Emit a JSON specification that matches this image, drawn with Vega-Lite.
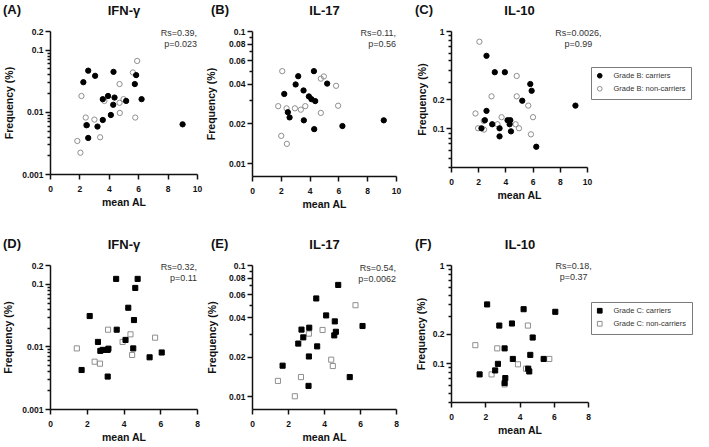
{
  "$schema": "https://vega.github.io/schema/vega-lite/v6.json",
  "padding": {"left": 2, "top": 4, "right": 2, "bottom": 2},
  "background": "white",
  "datasets": {
    "pts": [
      {"panel": "A", "al": 2.14, "freq": 0.018, "group": "Grade B: non-carriers"},
      {"panel": "A", "al": 2.43, "freq": 0.0081, "group": "Grade B: non-carriers"},
      {"panel": "A", "al": 3.02, "freq": 0.0075, "group": "Grade B: non-carriers"},
      {"panel": "A", "al": 3.41, "freq": 0.0039, "group": "Grade B: non-carriers"},
      {"panel": "A", "al": 1.86, "freq": 0.0034, "group": "Grade B: non-carriers"},
      {"panel": "A", "al": 2.07, "freq": 0.0022, "group": "Grade B: non-carriers"},
      {"panel": "A", "al": 3.7, "freq": 0.015, "group": "Grade B: non-carriers"},
      {"panel": "A", "al": 4.73, "freq": 0.028, "group": "Grade B: non-carriers"},
      {"panel": "A", "al": 4.73, "freq": 0.014, "group": "Grade B: non-carriers"},
      {"panel": "A", "al": 5.0, "freq": 0.016, "group": "Grade B: non-carriers"},
      {"panel": "A", "al": 4.75, "freq": 0.0096, "group": "Grade B: non-carriers"},
      {"panel": "A", "al": 5.8, "freq": 0.0081, "group": "Grade B: non-carriers"},
      {"panel": "A", "al": 5.64, "freq": 0.043, "group": "Grade B: non-carriers"},
      {"panel": "A", "al": 5.93, "freq": 0.066, "group": "Grade B: non-carriers"},
      {"panel": "A", "al": 2.45, "freq": 0.0061, "group": "Grade B: non-carriers"},
      {"panel": "A", "al": 2.6, "freq": 0.046, "group": "Grade B: carriers"},
      {"panel": "A", "al": 2.27, "freq": 0.030, "group": "Grade B: carriers"},
      {"panel": "A", "al": 3.07, "freq": 0.038, "group": "Grade B: carriers"},
      {"panel": "A", "al": 4.32, "freq": 0.044, "group": "Grade B: carriers"},
      {"panel": "A", "al": 5.86, "freq": 0.039, "group": "Grade B: carriers"},
      {"panel": "A", "al": 5.77, "freq": 0.028, "group": "Grade B: carriers"},
      {"panel": "A", "al": 3.59, "freq": 0.016, "group": "Grade B: carriers"},
      {"panel": "A", "al": 3.95, "freq": 0.018, "group": "Grade B: carriers"},
      {"panel": "A", "al": 4.39, "freq": 0.017, "group": "Grade B: carriers"},
      {"panel": "A", "al": 4.3, "freq": 0.013, "group": "Grade B: carriers"},
      {"panel": "A", "al": 5.18, "freq": 0.015, "group": "Grade B: carriers"},
      {"panel": "A", "al": 6.23, "freq": 0.016, "group": "Grade B: carriers"},
      {"panel": "A", "al": 4.14, "freq": 0.0089, "group": "Grade B: carriers"},
      {"panel": "A", "al": 3.59, "freq": 0.0074, "group": "Grade B: carriers"},
      {"panel": "A", "al": 2.5, "freq": 0.0061, "group": "Grade B: carriers"},
      {"panel": "A", "al": 3.23, "freq": 0.0058, "group": "Grade B: carriers"},
      {"panel": "A", "al": 2.6, "freq": 0.0038, "group": "Grade B: carriers"},
      {"panel": "A", "al": 9.02, "freq": 0.0063, "group": "Grade B: carriers"},

      {"panel": "B", "al": 2.1, "freq": 0.0497, "group": "Grade B: non-carriers"},
      {"panel": "B", "al": 4.78, "freq": 0.0436, "group": "Grade B: non-carriers"},
      {"panel": "B", "al": 4.99, "freq": 0.0453, "group": "Grade B: non-carriers"},
      {"panel": "B", "al": 5.84, "freq": 0.0385, "group": "Grade B: non-carriers"},
      {"panel": "B", "al": 5.98, "freq": 0.0272, "group": "Grade B: non-carriers"},
      {"panel": "B", "al": 1.82, "freq": 0.027, "group": "Grade B: non-carriers"},
      {"panel": "B", "al": 2.4, "freq": 0.026, "group": "Grade B: non-carriers"},
      {"panel": "B", "al": 2.98, "freq": 0.026, "group": "Grade B: non-carriers"},
      {"panel": "B", "al": 3.39, "freq": 0.0254, "group": "Grade B: non-carriers"},
      {"panel": "B", "al": 3.7, "freq": 0.027, "group": "Grade B: non-carriers"},
      {"panel": "B", "al": 4.78, "freq": 0.024, "group": "Grade B: non-carriers"},
      {"panel": "B", "al": 2.03, "freq": 0.0161, "group": "Grade B: non-carriers"},
      {"panel": "B", "al": 2.42, "freq": 0.014, "group": "Grade B: non-carriers"},
      {"panel": "B", "al": 4.3, "freq": 0.0497, "group": "Grade B: carriers"},
      {"panel": "B", "al": 3.21, "freq": 0.0455, "group": "Grade B: carriers"},
      {"panel": "B", "al": 3.03, "freq": 0.0394, "group": "Grade B: carriers"},
      {"panel": "B", "al": 5.22, "freq": 0.040, "group": "Grade B: carriers"},
      {"panel": "B", "al": 3.58, "freq": 0.0355, "group": "Grade B: carriers"},
      {"panel": "B", "al": 2.24, "freq": 0.0334, "group": "Grade B: carriers"},
      {"panel": "B", "al": 3.95, "freq": 0.032, "group": "Grade B: carriers"},
      {"panel": "B", "al": 4.13, "freq": 0.0305, "group": "Grade B: carriers"},
      {"panel": "B", "al": 4.39, "freq": 0.0295, "group": "Grade B: carriers"},
      {"panel": "B", "al": 2.49, "freq": 0.0243, "group": "Grade B: carriers"},
      {"panel": "B", "al": 2.61, "freq": 0.0222, "group": "Grade B: carriers"},
      {"panel": "B", "al": 3.6, "freq": 0.0211, "group": "Grade B: carriers"},
      {"panel": "B", "al": 4.32, "freq": 0.0181, "group": "Grade B: carriers"},
      {"panel": "B", "al": 6.28, "freq": 0.0191, "group": "Grade B: carriers"},
      {"panel": "B", "al": 9.15, "freq": 0.0211, "group": "Grade B: carriers"},

      {"panel": "C", "al": 2.09, "freq": 0.776, "group": "Grade B: non-carriers"},
      {"panel": "C", "al": 4.83, "freq": 0.345, "group": "Grade B: non-carriers"},
      {"panel": "C", "al": 2.98, "freq": 0.213, "group": "Grade B: non-carriers"},
      {"panel": "C", "al": 4.83, "freq": 0.213, "group": "Grade B: non-carriers"},
      {"panel": "C", "al": 5.68, "freq": 0.171, "group": "Grade B: non-carriers"},
      {"panel": "C", "al": 1.8, "freq": 0.142, "group": "Grade B: non-carriers"},
      {"panel": "C", "al": 6.03, "freq": 0.130, "group": "Grade B: non-carriers"},
      {"panel": "C", "al": 3.72, "freq": 0.130, "group": "Grade B: non-carriers"},
      {"panel": "C", "al": 2.41, "freq": 0.119, "group": "Grade B: non-carriers"},
      {"panel": "C", "al": 1.99, "freq": 0.1, "group": "Grade B: non-carriers"},
      {"panel": "C", "al": 2.43, "freq": 0.097, "group": "Grade B: non-carriers"},
      {"panel": "C", "al": 3.42, "freq": 0.11, "group": "Grade B: non-carriers"},
      {"panel": "C", "al": 4.75, "freq": 0.11, "group": "Grade B: non-carriers"},
      {"panel": "C", "al": 5.0, "freq": 0.1, "group": "Grade B: non-carriers"},
      {"panel": "C", "al": 5.88, "freq": 0.0867, "group": "Grade B: non-carriers"},
      {"panel": "C", "al": 2.61, "freq": 0.556, "group": "Grade B: carriers"},
      {"panel": "C", "al": 3.22, "freq": 0.377, "group": "Grade B: carriers"},
      {"panel": "C", "al": 3.96, "freq": 0.377, "group": "Grade B: carriers"},
      {"panel": "C", "al": 5.83, "freq": 0.285, "group": "Grade B: carriers"},
      {"panel": "C", "al": 5.93, "freq": 0.243, "group": "Grade B: carriers"},
      {"panel": "C", "al": 5.24, "freq": 0.192, "group": "Grade B: carriers"},
      {"panel": "C", "al": 9.15, "freq": 0.171, "group": "Grade B: carriers"},
      {"panel": "C", "al": 2.61, "freq": 0.151, "group": "Grade B: carriers"},
      {"panel": "C", "al": 2.49, "freq": 0.121, "group": "Grade B: carriers"},
      {"panel": "C", "al": 2.24, "freq": 0.1, "group": "Grade B: carriers"},
      {"panel": "C", "al": 3.03, "freq": 0.11, "group": "Grade B: carriers"},
      {"panel": "C", "al": 3.57, "freq": 0.1, "group": "Grade B: carriers"},
      {"panel": "C", "al": 3.57, "freq": 0.0826, "group": "Grade B: carriers"},
      {"panel": "C", "al": 4.16, "freq": 0.121, "group": "Grade B: carriers"},
      {"panel": "C", "al": 4.36, "freq": 0.121, "group": "Grade B: carriers"},
      {"panel": "C", "al": 4.31, "freq": 0.11, "group": "Grade B: carriers"},
      {"panel": "C", "al": 4.41, "freq": 0.093, "group": "Grade B: carriers"},
      {"panel": "C", "al": 6.27, "freq": 0.0646, "group": "Grade B: carriers"},

      {"panel": "D", "al": 1.46, "freq": 0.0093, "group": "Grade C: non-carriers"},
      {"panel": "D", "al": 3.16, "freq": 0.0185, "group": "Grade C: non-carriers"},
      {"panel": "D", "al": 4.38, "freq": 0.0156, "group": "Grade C: non-carriers"},
      {"panel": "D", "al": 3.95, "freq": 0.0118, "group": "Grade C: non-carriers"},
      {"panel": "D", "al": 5.72, "freq": 0.0138, "group": "Grade C: non-carriers"},
      {"panel": "D", "al": 4.47, "freq": 0.0073, "group": "Grade C: non-carriers"},
      {"panel": "D", "al": 2.43, "freq": 0.0057, "group": "Grade C: non-carriers"},
      {"panel": "D", "al": 2.72, "freq": 0.0053, "group": "Grade C: non-carriers"},
      {"panel": "D", "al": 3.6, "freq": 0.12, "group": "Grade C: carriers"},
      {"panel": "D", "al": 4.77, "freq": 0.12, "group": "Grade C: carriers"},
      {"panel": "D", "al": 4.64, "freq": 0.086, "group": "Grade C: carriers"},
      {"panel": "D", "al": 4.26, "freq": 0.0415, "group": "Grade C: carriers"},
      {"panel": "D", "al": 2.16, "freq": 0.0306, "group": "Grade C: carriers"},
      {"panel": "D", "al": 4.57, "freq": 0.0264, "group": "Grade C: carriers"},
      {"panel": "D", "al": 3.63, "freq": 0.0185, "group": "Grade C: carriers"},
      {"panel": "D", "al": 4.11, "freq": 0.0127, "group": "Grade C: carriers"},
      {"panel": "D", "al": 2.61, "freq": 0.0118, "group": "Grade C: carriers"},
      {"panel": "D", "al": 2.74, "freq": 0.0085, "group": "Grade C: carriers"},
      {"panel": "D", "al": 2.87, "freq": 0.0088, "group": "Grade C: carriers"},
      {"panel": "D", "al": 3.14, "freq": 0.0088, "group": "Grade C: carriers"},
      {"panel": "D", "al": 3.18, "freq": 0.0092, "group": "Grade C: carriers"},
      {"panel": "D", "al": 4.53, "freq": 0.0093, "group": "Grade C: carriers"},
      {"panel": "D", "al": 6.08, "freq": 0.008, "group": "Grade C: carriers"},
      {"panel": "D", "al": 5.42, "freq": 0.0067, "group": "Grade C: carriers"},
      {"panel": "D", "al": 1.72, "freq": 0.0042, "group": "Grade C: carriers"},
      {"panel": "D", "al": 3.14, "freq": 0.0033, "group": "Grade C: carriers"},

      {"panel": "E", "al": 5.75, "freq": 0.0494, "group": "Grade C: non-carriers"},
      {"panel": "E", "al": 3.92, "freq": 0.032, "group": "Grade C: non-carriers"},
      {"panel": "E", "al": 3.16, "freq": 0.030, "group": "Grade C: non-carriers"},
      {"panel": "E", "al": 4.4, "freq": 0.019, "group": "Grade C: non-carriers"},
      {"panel": "E", "al": 4.49, "freq": 0.017, "group": "Grade C: non-carriers"},
      {"panel": "E", "al": 2.72, "freq": 0.014, "group": "Grade C: non-carriers"},
      {"panel": "E", "al": 1.44, "freq": 0.0131, "group": "Grade C: non-carriers"},
      {"panel": "E", "al": 2.38, "freq": 0.01, "group": "Grade C: non-carriers"},
      {"panel": "E", "al": 4.79, "freq": 0.0705, "group": "Grade C: carriers"},
      {"panel": "E", "al": 3.57, "freq": 0.0556, "group": "Grade C: carriers"},
      {"panel": "E", "al": 4.12, "freq": 0.0413, "group": "Grade C: carriers"},
      {"panel": "E", "al": 4.6, "freq": 0.0372, "group": "Grade C: carriers"},
      {"panel": "E", "al": 6.14, "freq": 0.0343, "group": "Grade C: carriers"},
      {"panel": "E", "al": 3.18, "freq": 0.0333, "group": "Grade C: carriers"},
      {"panel": "E", "al": 2.75, "freq": 0.0322, "group": "Grade C: carriers"},
      {"panel": "E", "al": 4.66, "freq": 0.031, "group": "Grade C: carriers"},
      {"panel": "E", "al": 4.57, "freq": 0.0291, "group": "Grade C: carriers"},
      {"panel": "E", "al": 2.85, "freq": 0.0281, "group": "Grade C: carriers"},
      {"panel": "E", "al": 2.57, "freq": 0.0252, "group": "Grade C: carriers"},
      {"panel": "E", "al": 3.62, "freq": 0.024, "group": "Grade C: carriers"},
      {"panel": "E", "al": 3.16, "freq": 0.0201, "group": "Grade C: carriers"},
      {"panel": "E", "al": 1.7, "freq": 0.0171, "group": "Grade C: carriers"},
      {"panel": "E", "al": 5.43, "freq": 0.014, "group": "Grade C: carriers"},
      {"panel": "E", "al": 3.14, "freq": 0.012, "group": "Grade C: carriers"},

      {"panel": "F", "al": 4.49, "freq": 0.241, "group": "Grade C: non-carriers"},
      {"panel": "F", "al": 1.42, "freq": 0.152, "group": "Grade C: non-carriers"},
      {"panel": "F", "al": 2.7, "freq": 0.141, "group": "Grade C: non-carriers"},
      {"panel": "F", "al": 5.74, "freq": 0.11, "group": "Grade C: non-carriers"},
      {"panel": "F", "al": 3.91, "freq": 0.097, "group": "Grade C: non-carriers"},
      {"panel": "F", "al": 4.38, "freq": 0.0875, "group": "Grade C: non-carriers"},
      {"panel": "F", "al": 2.37, "freq": 0.0765, "group": "Grade C: non-carriers"},
      {"panel": "F", "al": 3.13, "freq": 0.0605, "group": "Grade C: non-carriers"},
      {"panel": "F", "al": 2.11, "freq": 0.396, "group": "Grade C: carriers"},
      {"panel": "F", "al": 4.24, "freq": 0.354, "group": "Grade C: carriers"},
      {"panel": "F", "al": 6.09, "freq": 0.333, "group": "Grade C: carriers"},
      {"panel": "F", "al": 2.82, "freq": 0.241, "group": "Grade C: carriers"},
      {"panel": "F", "al": 3.56, "freq": 0.253, "group": "Grade C: carriers"},
      {"panel": "F", "al": 4.77, "freq": 0.182, "group": "Grade C: carriers"},
      {"panel": "F", "al": 3.13, "freq": 0.141, "group": "Grade C: carriers"},
      {"panel": "F", "al": 4.63, "freq": 0.121, "group": "Grade C: carriers"},
      {"panel": "F", "al": 5.41, "freq": 0.11, "group": "Grade C: carriers"},
      {"panel": "F", "al": 3.61, "freq": 0.11, "group": "Grade C: carriers"},
      {"panel": "F", "al": 2.74, "freq": 0.098, "group": "Grade C: carriers"},
      {"panel": "F", "al": 2.58, "freq": 0.084, "group": "Grade C: carriers"},
      {"panel": "F", "al": 1.67, "freq": 0.0765, "group": "Grade C: carriers"},
      {"panel": "F", "al": 3.17, "freq": 0.0702, "group": "Grade C: carriers"},
      {"panel": "F", "al": 3.13, "freq": 0.0624, "group": "Grade C: carriers"},
      {"panel": "F", "al": 4.51, "freq": 0.0875, "group": "Grade C: carriers"},
      {"panel": "F", "al": 4.57, "freq": 0.082, "group": "Grade C: carriers"}
    ],
    "notes": [
      {"panel": "A", "label": "Rs=0.39,\np=0.023"},
      {"panel": "B", "label": "Rs=0.11,\np=0.56"},
      {"panel": "C", "label": "Rs=0.0026,\np=0.99"},
      {"panel": "D", "label": "Rs=0.32,\np=0.11"},
      {"panel": "E", "label": "Rs=0.54,\np=0.0062"},
      {"panel": "F", "label": "Rs=0.18,\np=0.37"}
    ]
  },
  "data": {"name": "pts"},
  "columns": 3,
  "spacing": {"row": 89, "column": 55},
  "bounds": "flush",
  "resolve": {
    "scale": {"x": "independent", "y": "independent", "fill": "independent", "stroke": "independent"},
    "axis": {"x": "independent", "y": "independent"},
    "legend": {"fill": "independent", "stroke": "independent"}
  },
  "concat": [
    {
      "width": 147, "height": 143,
      "title": {"text": "(A)", "dx": -47},
      "resolve": {"axis": {"x": "independent"}},
      "layer": [
        {
          "transform": [{"filter": "datum.panel == 'A'"}],
          "mark": {"type": "point", "shape": "circle", "size": 28, "strokeWidth": 1, "opacity": 1},
          "encoding": {
            "x": {"field": "al", "type": "quantitative", "scale": {"domain": [0, 10], "nice": false, "zero": false},
                  "axis": {"values": [0, 2, 4, 6, 8, 10], "format": "d", "title": "mean AL"}},
            "y": {"field": "freq", "type": "quantitative", "scale": {"type": "log", "domain": [0.001, 0.2], "nice": false},
                  "axis": {"values": [0.001, 0.002, 0.003, 0.004, 0.005, 0.006, 0.007, 0.008, 0.009, 0.01, 0.02, 0.03, 0.04, 0.05, 0.06, 0.07, 0.08, 0.09, 0.1, 0.2],
                           "labelExpr": "indexof(['0.001','0.01','0.1','0.2'], datum.label) >= 0 ? datum.label : ''",
                           "tickSize": {"condition": {"test": "indexof([0.001, 0.01, 0.1, 0.2], datum.value) >= 0", "value": 5}, "value": 3},
                           "title": "Frequency (%)", "titleX": -36, "titleY": 71.5}},
            "fill": {"field": "group", "type": "nominal", "scale": {"domain": ["Grade B: carriers", "Grade B: non-carriers"], "range": ["#000000", "transparent"]}, "legend": null},
            "stroke": {"field": "group", "type": "nominal", "scale": {"domain": ["Grade B: carriers", "Grade B: non-carriers"], "range": ["#000000", "#8f8f8f"]}, "legend": null}
          }
        },
        {
          "data": {"name": "notes"},
          "transform": [{"filter": "datum.panel == 'A'"}],
          "mark": {"type": "text", "align": "right", "baseline": "top", "dy": -2, "lineBreak": "\n", "lineHeight": 10.5, "fontSize": 9, "color": "#333333"},
          "encoding": {
            "x": {"datum": 10, "type": "quantitative", "axis": {"orient": "top", "title": "IFN-γ"}},
            "y": {"datum": 0.2, "type": "quantitative"},
            "text": {"field": "label"}
          }
        }
      ]
    },
    {
      "width": 144, "height": 145,
      "title": {"text": "(B)", "dx": -41},
      "resolve": {"axis": {"x": "independent"}},
      "layer": [
        {
          "transform": [{"filter": "datum.panel == 'B'"}],
          "mark": {"type": "point", "shape": "circle", "size": 28, "strokeWidth": 1, "opacity": 1},
          "encoding": {
            "x": {"field": "al", "type": "quantitative", "scale": {"domain": [0, 10], "nice": false, "zero": false},
                  "axis": {"values": [0, 2, 4, 6, 8, 10], "format": "d", "title": "mean AL"}},
            "y": {"field": "freq", "type": "quantitative", "scale": {"type": "log", "domain": [0.008, 0.1], "nice": false},
                  "axis": {"values": [0.01, 0.02, 0.03, 0.04, 0.05, 0.06, 0.07, 0.08, 0.09, 0.1],
                           "labelExpr": "indexof(['0.01','0.02','0.04','0.06','0.08','0.1'], datum.label) >= 0 ? datum.label : ''",
                           "tickSize": {"condition": {"test": "indexof([0.01, 0.02, 0.04, 0.06, 0.08, 0.1], datum.value) >= 0", "value": 5}, "value": 3},
                           "title": "Frequency (%)", "titleX": -36, "titleY": 72.5}},
            "fill": {"field": "group", "type": "nominal", "scale": {"domain": ["Grade B: carriers", "Grade B: non-carriers"], "range": ["#000000", "transparent"]}, "legend": null},
            "stroke": {"field": "group", "type": "nominal", "scale": {"domain": ["Grade B: carriers", "Grade B: non-carriers"], "range": ["#000000", "#8f8f8f"]}, "legend": null}
          }
        },
        {
          "data": {"name": "notes"},
          "transform": [{"filter": "datum.panel == 'B'"}],
          "mark": {"type": "text", "align": "right", "baseline": "top", "dy": -2, "lineBreak": "\n", "lineHeight": 10.5, "fontSize": 9, "color": "#333333"},
          "encoding": {
            "x": {"datum": 10, "type": "quantitative", "axis": {"orient": "top", "title": "IL-17"}},
            "y": {"datum": 0.1, "type": "quantitative"},
            "text": {"field": "label"}
          }
        }
      ]
    },
    {
      "width": 136, "height": 136,
      "title": {"text": "(C)", "dx": -36},
      "resolve": {"axis": {"x": "independent"}},
      "layer": [
        {
          "transform": [{"filter": "datum.panel == 'C'"}],
          "mark": {"type": "point", "shape": "circle", "size": 28, "strokeWidth": 1, "opacity": 1},
          "encoding": {
            "x": {"field": "al", "type": "quantitative", "scale": {"domain": [0, 10], "nice": false, "zero": false},
                  "axis": {"values": [0, 2, 4, 6, 8, 10], "format": "d", "title": "mean AL"}},
            "y": {"field": "freq", "type": "quantitative", "scale": {"type": "log", "domain": [0.04, 1], "nice": false},
                  "axis": {"values": [0.04, 0.05, 0.06, 0.07, 0.08, 0.09, 0.1, 0.2, 0.3, 0.4, 0.5, 0.6, 0.7, 0.8, 0.9, 1],
                           "labelExpr": "indexof(['0.1','0.2','1'], datum.label) >= 0 ? datum.label : ''",
                           "tickSize": {"condition": {"test": "indexof([0.1, 0.2, 1], datum.value) >= 0", "value": 5}, "value": 3},
                           "title": "Frequency (%)", "titleX": -24, "titleY": 68}},
            "fill": {"field": "group", "type": "nominal", "scale": {"domain": ["Grade B: carriers", "Grade B: non-carriers"], "range": ["#000000", "transparent"]},
                     "legend": {"orient": "none", "legendX": 140, "legendY": 36, "symbolType": "circle"}},
            "stroke": {"field": "group", "type": "nominal", "scale": {"domain": ["Grade B: carriers", "Grade B: non-carriers"], "range": ["#000000", "#8f8f8f"]},
                       "legend": {"orient": "none", "legendX": 140, "legendY": 36, "symbolType": "circle"}}
          }
        },
        {
          "data": {"name": "notes"},
          "transform": [{"filter": "datum.panel == 'C'"}],
          "mark": {"type": "text", "align": "center", "baseline": "top", "dy": -2, "lineBreak": "\n", "lineHeight": 10.5, "fontSize": 9, "color": "#333333"},
          "encoding": {
            "x": {"datum": 9.37, "type": "quantitative", "axis": {"orient": "top", "title": "IL-10"}},
            "y": {"datum": 1, "type": "quantitative"},
            "text": {"field": "label"}
          }
        }
      ]
    },
    {
      "width": 147, "height": 144,
      "title": {"text": "(D)", "dx": -47},
      "resolve": {"axis": {"x": "independent"}},
      "layer": [
        {
          "transform": [{"filter": "datum.panel == 'D'"}],
          "mark": {"type": "point", "shape": "square", "size": 26, "strokeWidth": 1, "opacity": 1},
          "encoding": {
            "x": {"field": "al", "type": "quantitative", "scale": {"domain": [0, 8], "nice": false, "zero": false},
                  "axis": {"values": [0, 2, 4, 6, 8], "format": "d", "title": "mean AL"}},
            "y": {"field": "freq", "type": "quantitative", "scale": {"type": "log", "domain": [0.001, 0.2], "nice": false},
                  "axis": {"values": [0.001, 0.002, 0.003, 0.004, 0.005, 0.006, 0.007, 0.008, 0.009, 0.01, 0.02, 0.03, 0.04, 0.05, 0.06, 0.07, 0.08, 0.09, 0.1, 0.2],
                           "labelExpr": "indexof(['0.001','0.01','0.1','0.2'], datum.label) >= 0 ? datum.label : ''",
                           "tickSize": {"condition": {"test": "indexof([0.001, 0.01, 0.1, 0.2], datum.value) >= 0", "value": 5}, "value": 3},
                           "title": "Frequency (%)", "titleX": -37, "titleY": 72}},
            "fill": {"field": "group", "type": "nominal", "scale": {"domain": ["Grade C: carriers", "Grade C: non-carriers"], "range": ["#000000", "transparent"]}, "legend": null},
            "stroke": {"field": "group", "type": "nominal", "scale": {"domain": ["Grade C: carriers", "Grade C: non-carriers"], "range": ["#000000", "#8f8f8f"]}, "legend": null}
          }
        },
        {
          "data": {"name": "notes"},
          "transform": [{"filter": "datum.panel == 'D'"}],
          "mark": {"type": "text", "align": "right", "baseline": "top", "dy": -2, "lineBreak": "\n", "lineHeight": 10.5, "fontSize": 9, "color": "#333333"},
          "encoding": {
            "x": {"datum": 8, "type": "quantitative", "axis": {"orient": "top", "title": "IFN-γ"}},
            "y": {"datum": 0.2, "type": "quantitative"},
            "text": {"field": "label"}
          }
        }
      ]
    },
    {
      "width": 144, "height": 144,
      "title": {"text": "(E)", "dx": -41},
      "resolve": {"axis": {"x": "independent"}},
      "layer": [
        {
          "transform": [{"filter": "datum.panel == 'E'"}],
          "mark": {"type": "point", "shape": "square", "size": 26, "strokeWidth": 1, "opacity": 1},
          "encoding": {
            "x": {"field": "al", "type": "quantitative", "scale": {"domain": [0, 8], "nice": false, "zero": false},
                  "axis": {"values": [0, 2, 4, 6, 8], "format": "d", "title": "mean AL"}},
            "y": {"field": "freq", "type": "quantitative", "scale": {"type": "log", "domain": [0.008, 0.1], "nice": false},
                  "axis": {"values": [0.01, 0.02, 0.03, 0.04, 0.05, 0.06, 0.07, 0.08, 0.09, 0.1],
                           "labelExpr": "indexof(['0.01','0.02','0.04','0.06','0.08','0.1'], datum.label) >= 0 ? datum.label : ''",
                           "tickSize": {"condition": {"test": "indexof([0.01, 0.02, 0.04, 0.06, 0.08, 0.1], datum.value) >= 0", "value": 5}, "value": 3},
                           "title": "Frequency (%)", "titleX": -35, "titleY": 72}},
            "fill": {"field": "group", "type": "nominal", "scale": {"domain": ["Grade C: carriers", "Grade C: non-carriers"], "range": ["#000000", "transparent"]}, "legend": null},
            "stroke": {"field": "group", "type": "nominal", "scale": {"domain": ["Grade C: carriers", "Grade C: non-carriers"], "range": ["#000000", "#8f8f8f"]}, "legend": null}
          }
        },
        {
          "data": {"name": "notes"},
          "transform": [{"filter": "datum.panel == 'E'"}],
          "mark": {"type": "text", "align": "right", "baseline": "top", "dy": -1, "lineBreak": "\n", "lineHeight": 10.5, "fontSize": 9, "color": "#333333"},
          "encoding": {
            "x": {"datum": 8, "type": "quantitative", "axis": {"orient": "top", "title": "IL-17"}},
            "y": {"datum": 0.1, "type": "quantitative"},
            "text": {"field": "label"}
          }
        }
      ]
    },
    {
      "width": 137, "height": 137,
      "title": {"text": "(F)", "dx": -36},
      "resolve": {"axis": {"x": "independent"}},
      "layer": [
        {
          "transform": [{"filter": "datum.panel == 'F'"}],
          "mark": {"type": "point", "shape": "square", "size": 26, "strokeWidth": 1, "opacity": 1},
          "encoding": {
            "x": {"field": "al", "type": "quantitative", "scale": {"domain": [0, 8], "nice": false, "zero": false},
                  "axis": {"values": [0, 2, 4, 6, 8], "format": "d", "title": "mean AL"}},
            "y": {"field": "freq", "type": "quantitative", "scale": {"type": "log", "domain": [0.04, 1], "nice": false},
                  "axis": {"values": [0.04, 0.05, 0.06, 0.07, 0.08, 0.09, 0.1, 0.2, 0.3, 0.4, 0.5, 0.6, 0.7, 0.8, 0.9, 1],
                           "labelExpr": "indexof(['0.1','0.2','1'], datum.label) >= 0 ? datum.label : ''",
                           "tickSize": {"condition": {"test": "indexof([0.1, 0.2, 1], datum.value) >= 0", "value": 5}, "value": 3},
                           "title": "Frequency (%)", "titleX": -25, "titleY": 68.5}},
            "fill": {"field": "group", "type": "nominal", "scale": {"domain": ["Grade C: carriers", "Grade C: non-carriers"], "range": ["#000000", "transparent"]},
                     "legend": {"orient": "none", "legendX": 140, "legendY": 37, "symbolType": "square"}},
            "stroke": {"field": "group", "type": "nominal", "scale": {"domain": ["Grade C: carriers", "Grade C: non-carriers"], "range": ["#000000", "#8f8f8f"]},
                       "legend": {"orient": "none", "legendX": 140, "legendY": 37, "symbolType": "square"}}
          }
        },
        {
          "data": {"name": "notes"},
          "transform": [{"filter": "datum.panel == 'F'"}],
          "mark": {"type": "text", "align": "center", "baseline": "top", "dy": -3, "lineBreak": "\n", "lineHeight": 10.5, "fontSize": 9, "color": "#333333"},
          "encoding": {
            "x": {"datum": 7.16, "type": "quantitative", "axis": {"orient": "top", "title": "IL-10"}},
            "y": {"datum": 1, "type": "quantitative"},
            "text": {"field": "label"}
          }
        }
      ]
    }
  ],
  "config": {
    "font": "Liberation Sans",
    "view": {"stroke": null},
    "title": {"anchor": "start", "frame": "group", "fontSize": 13, "fontWeight": "bold", "color": "#111111", "dy": 17},
    "axis": {
      "grid": false,
      "domainColor": "#111111", "domainWidth": 1.5,
      "tickColor": "#111111", "tickWidth": 1.5,
      "labelFont": "Liberation Sans", "labelFontWeight": "bold", "labelFontSize": 8.5, "labelColor": "#111111",
      "labelPadding": 2, "labelFlush": false, "labelOverlap": false, "format": "~g",
      "titleFont": "Liberation Sans", "titleFontWeight": "bold", "titleFontSize": 10.5, "titleColor": "#111111"
    },
    "axisBottom": {"tickSize": 5, "labelPadding": 5, "titlePadding": 5},
    "axisTop": {"domain": false, "ticks": false, "labels": false, "titleFontSize": 13, "titlePadding": 14},
    "legend": {
      "title": null, "strokeColor": "#7a7a7a", "padding": 5, "symbolSize": 22, "symbolStrokeWidth": 1,
      "labelFont": "Liberation Sans", "labelFontSize": 7.5, "labelColor": "#333333", "labelOffset": 10, "rowPadding": 3
    },
    "point": {"opacity": 1}
  }
}
